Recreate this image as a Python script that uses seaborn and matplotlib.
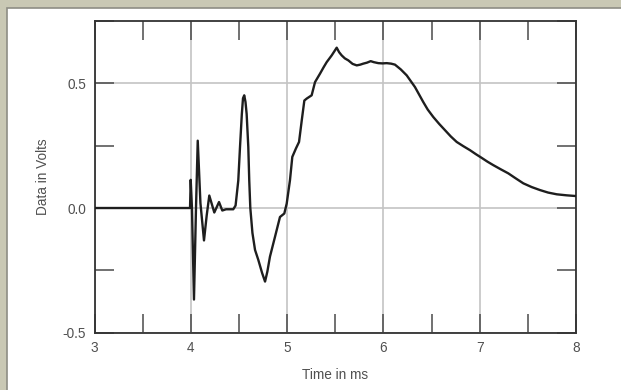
import numpy as np
import pandas as pd
import matplotlib
matplotlib.use("Agg")
import matplotlib.pyplot as plt
from matplotlib.patches import Rectangle
from matplotlib.ticker import MultipleLocator, FixedLocator, FixedFormatter
import seaborn as sns

# ---- data (time in ms, volts) ----
time_ms = [3.0, 3.992, 3.999, 4.012, 4.033, 4.054, 4.072, 4.10, 4.137, 4.165,
           4.192, 4.244, 4.293, 4.327, 4.366, 4.441, 4.465, 4.493, 4.511, 4.53,
           4.542, 4.555, 4.568, 4.58, 4.597, 4.607, 4.618, 4.64, 4.667, 4.701,
           4.74, 4.771, 4.795, 4.822, 4.874, 4.926, 4.971, 4.996, 5.03, 5.054,
           5.092, 5.124, 5.152, 5.179, 5.204, 5.255, 5.29, 5.342, 5.38, 5.411,
           5.463, 5.49, 5.515, 5.54, 5.567, 5.60, 5.636, 5.68, 5.723, 5.76,
           5.791, 5.83, 5.868, 5.90, 5.947, 5.99, 6.034, 6.08, 6.12, 6.18,
           6.242, 6.328, 6.414, 6.46, 6.518, 6.58, 6.64, 6.70, 6.761, 6.83,
           6.899, 6.96, 7.021, 7.08, 7.141, 7.22, 7.297, 7.37, 7.453, 7.54,
           7.626, 7.71, 7.8, 7.9, 8.0]
volts = [0.0, 0.0, 0.113, 0.0, -0.367, 0.0, 0.27, 0.02, -0.13, -0.03,
         0.05, -0.018, 0.024, -0.01, -0.005, -0.005, 0.01, 0.11, 0.245, 0.377,
         0.44, 0.452, 0.425, 0.377, 0.245, 0.11, 0.0, -0.10, -0.168, -0.208,
         -0.26, -0.295, -0.255, -0.195, -0.116, -0.036, -0.022, 0.018, 0.112, 0.205,
         0.239, 0.265, 0.351, 0.431, 0.439, 0.452, 0.505, 0.539, 0.565, 0.585,
         0.612, 0.628, 0.643, 0.625, 0.612, 0.60, 0.592, 0.578, 0.572, 0.575,
         0.579, 0.583, 0.589, 0.585, 0.581, 0.580, 0.581, 0.579, 0.575, 0.556,
         0.532, 0.485, 0.425, 0.395, 0.365, 0.337, 0.312, 0.287, 0.265, 0.248,
         0.232, 0.216, 0.201, 0.186, 0.172, 0.155, 0.139, 0.12, 0.099, 0.084,
         0.072, 0.062, 0.055, 0.051, 0.048]

x_ticks = [3, 4, 5, 6, 7, 8]
x_tick_labels = ["3", "4", "5", "6", "7", "8"]
y_ticks = [-0.5, 0.0, 0.5]
y_tick_labels = ["-0.5", "0.0", "0.5"]

df = pd.DataFrame({"Time in ms": time_ms, "Data in Volts": volts})

sns.set_style("white")
plt.rcParams["font.family"] = ["Liberation Sans", "DejaVu Sans"]

W, H = 621, 390
fig = plt.figure(figsize=(W / 100, H / 100), dpi=100)
fig.patch.set_facecolor("#c9c8b4")
# white inner panel
fig.patches.append(Rectangle((6.5 / W, -0.01), 1.0, 1 - 8 / H + 0.01,
                             transform=fig.transFigure, facecolor="white",
                             edgecolor="#8e8d84", linewidth=1.2, zorder=-5))

ax = fig.add_axes([94.5 / W, 1 - 332.7 / H, (576 - 94.5) / W, (332.7 - 21) / H])
ax.set_zorder(2)
ax.set_facecolor("white")

sns.lineplot(data=df, x="Time in ms", y="Data in Volts", ax=ax, sort=False,
             estimator=None, color="#1e1e1e", linewidth=1.7, zorder=3,
             solid_joinstyle="round")

ax.set_xlim(3, 8)
ax.set_ylim(-0.5, 0.75)

ax.xaxis.set_major_locator(FixedLocator(x_ticks))
ax.xaxis.set_major_formatter(FixedFormatter(x_tick_labels))
ax.xaxis.set_minor_locator(MultipleLocator(0.5))
ax.yaxis.set_major_locator(FixedLocator(y_ticks))
ax.yaxis.set_major_formatter(FixedFormatter(y_tick_labels))
ax.yaxis.set_minor_locator(MultipleLocator(0.25))

ax.grid(True, which="major", color="#c4c4c4", linewidth=1.2, zorder=1)
ax.set_axisbelow(True)

for which in ("major", "minor"):
    ax.tick_params(axis="both", which=which, direction="in", length=14,
                   width=1.1, color="#4a4a4a", top=True, right=True,
                   bottom=True, left=True)
ax.tick_params(axis="both", which="major", labelsize=9.8, labelcolor="#505050",
               pad=6)

for s in ax.spines.values():
    s.set_visible(True)
    s.set_color("#333333")
    s.set_linewidth(1.3)

ax.set_xlabel("Time in ms", fontsize=9.8, color="#505050", labelpad=9)
ax.set_ylabel("Data in Volts", fontsize=9.8, color="#505050", labelpad=9)

fig.savefig("out.png", dpi=100, facecolor=fig.get_facecolor())
